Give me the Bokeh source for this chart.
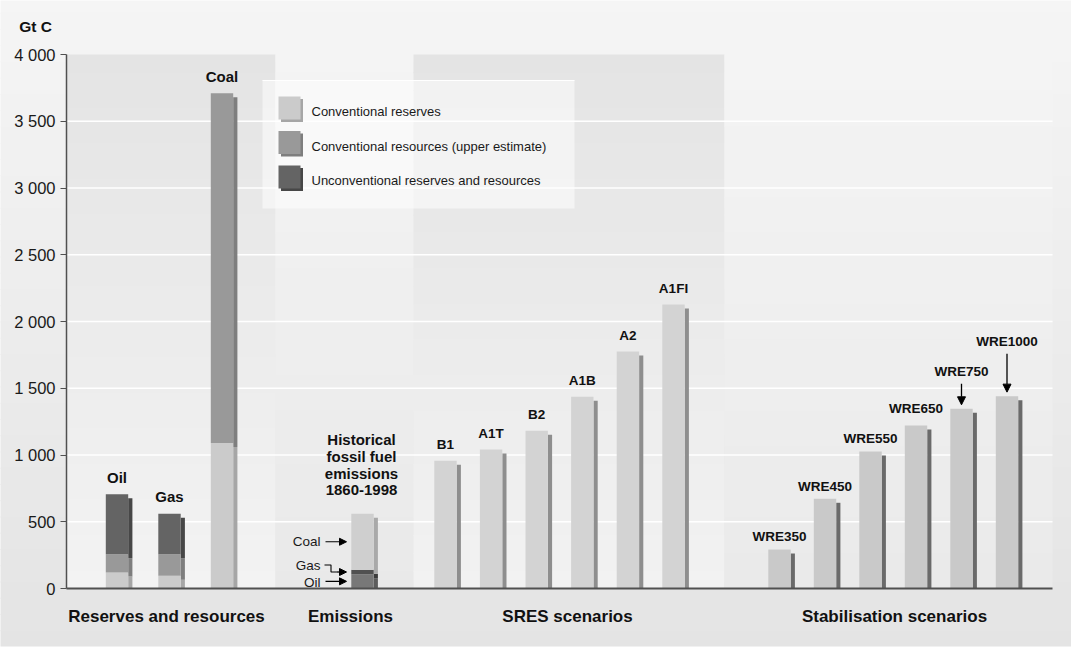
from bokeh.plotting import figure
from bokeh.models import Range1d, LinearAxis, FixedTicker, Arrow, NormalHead
from bokeh.core.properties import value
from bokeh.embed import file_html
from bokeh.resources import INLINE

# ---------------- data ----------------
y_ticks = [0, 500, 1000, 1500, 2000, 2500, 3000, 3500, 4000]
y_tick_labels = ["0", "500", "1 000", "1 500", "2 000", "2 500", "3 000", "3 500", "4 000"]
y_unit = "Gt C"

fuels = ["Oil", "Gas", "Coal"]
conventional_reserves = [120, 95, 1090]
conventional_resources = [137, 162, 2620]
unconventional = [449, 303, 0]

emission_fuels = ["Oil", "Gas", "Coal"]
historical_emissions = [107, 33, 420]
emissions_title = ["Historical", "fossil fuel", "emissions", "1860-1998"]

sres_names = ["B1", "A1T", "B2", "A1B", "A2", "A1FI"]
sres_values = [957, 1041, 1181, 1436, 1775, 2127]

wre_names = ["WRE350", "WRE450", "WRE550", "WRE650", "WRE750", "WRE1000"]
wre_values = [292, 672, 1026, 1221, 1346, 1441]

legend_labels = ["Conventional reserves",
                 "Conventional resources (upper estimate)",
                 "Unconventional reserves and resources"]
group_labels = ["Reserves and resources", "Emissions", "SRES scenarios", "Stabilisation scenarios"]

# ---------------- layout / style ----------------
W, H = 1071, 647
IMG_X0, IMG_Y0 = 8, 8
Y0_PX = 596
PX = 534 / 4000.0
FONT = value("Liberation Sans")


def gy(ypx):
    return (Y0_PX - ypx) / PX


def dy(px):
    return px / PX


p = figure(width=W, height=H, x_range=Range1d(IMG_X0, IMG_X0 + W),
           y_range=Range1d(gy(IMG_Y0 + H), gy(IMG_Y0)),
           output_backend="svg", toolbar_location=None, min_border=0,
           x_axis_type=None, y_axis_type=None)
p.outline_line_color = None
p.background_fill_color = "white"
p.border_fill_color = "white"
p.xgrid.visible = False
p.ygrid.visible = False


def hexg(v):
    v = int(round(v))
    return "#%02x%02x%02x" % (v, v, v)


def gradient(x0, x1, ytop_px, ybot_px, g0, g1, n=30):
    L, R, T, B, C = [], [], [], [], []
    for i in range(n):
        a = ytop_px + (ybot_px - ytop_px) * i / n
        b = ytop_px + (ybot_px - ytop_px) * (i + 1) / n
        if i < n - 1:
            b += 1
        L.append(x0); R.append(x1); T.append(gy(a)); B.append(gy(b))
        C.append(hexg(g0 + (g1 - g0) * (i + 0.5) / n))
    p.quad(left=L, right=R, top=T, bottom=B, fill_color=C, line_color=None)


# background + panels
gradient(6, 1081, 4, 654, 245, 228, n=40)
AX_X, AX_R = 74, 1060
TOP_PX = Y0_PX - 4000 * PX
gradient(AX_X, 283, TOP_PX, Y0_PX, 228, 243)
gradient(283, 421, TOP_PX, Y0_PX, 244, 233)
gradient(421, 732, TOP_PX, Y0_PX, 228, 242)
gradient(732, AX_R, TOP_PX, Y0_PX, 244, 234)

# white grid lines
grid_vals = y_ticks[1:-1]
p.segment(x0=[AX_X] * len(grid_vals), x1=[AX_R] * len(grid_vals), y0=grid_vals, y1=grid_vals,
          line_color="white", line_width=1.6)

BAR_W = 22.4
SH_W = 4.2
DROP = dy(4)

fl, fr, ft, fb, fc = [], [], [], [], []
sl, sr, st, sb, sc = [], [], [], [], []


def add_stack(xc, tops_bottoms, colors, shadows):
    for (b, t), c, s in zip(tops_bottoms, colors, shadows):
        if t - b <= 0:
            continue
        sl.append(xc + BAR_W / 2); sr.append(xc + BAR_W / 2 + SH_W)
        sb.append(max(b - DROP, 0)); st.append(t - DROP); sc.append(s)
        fl.append(xc - BAR_W / 2); fr.append(xc + BAR_W / 2)
        fb.append(b); ft.append(t); fc.append(c)


RES_COL = ["#cbcbcb", "#999999", "#646464"]
RES_SH = ["#a6a6a6", "#7e7e7e", "#474747"]

# reserves & resources
res_x = [124.5 + 52.5 * i for i in range(len(fuels))]
res_tops = []
for i in range(len(fuels)):
    a = conventional_reserves[i]
    b = a + conventional_resources[i]
    c = b + unconventional[i]
    res_tops.append(c)
    add_stack(res_x[i], [(0, a), (a, b), (b, c)], RES_COL, RES_SH)

# emissions
em_x = 370
cum = 0
em_seg = []
for v in historical_emissions:
    em_seg.append((cum, cum + v))
    cum += v
em_top = cum
add_stack(em_x, em_seg, ["#787878", "#515151", "#cfcfcf"], ["#5c5c5c", "#3c3c3c", "#a9a9a9"])

# SRES
sres_x = [453 + 45.6 * i for i in range(len(sres_names))]
for xc, v in zip(sres_x, sres_values):
    add_stack(xc, [(0, v)], ["#d3d3d3"], ["#8e8e8e"])

# WRE
wre_x = [787 + 45.5 * i for i in range(len(wre_names))]
for xc, v in zip(wre_x, wre_values):
    add_stack(xc, [(0, v)], ["#c9c9c9"], ["#6a6a6a"])

p.quad(left=sl, right=sr, top=st, bottom=sb, fill_color=sc, line_color=None)
p.quad(left=fl, right=fr, top=ft, bottom=fb, fill_color=fc, line_color=None)

# baseline
p.segment(x0=[AX_X], x1=[AX_R], y0=[0], y1=[0], line_color="#505050", line_width=1.8)

# y axis
yax = LinearAxis(fixed_location=AX_X, ticker=FixedTicker(ticks=y_ticks), bounds=(0, 4000),
                 major_label_overrides={t: l for t, l in zip(y_ticks, y_tick_labels)})
yax.axis_line_color = "#505050"
yax.axis_line_width = 1.5
yax.major_tick_line_color = "#505050"
yax.major_tick_line_width = 1.2
yax.major_tick_out = 6
yax.major_tick_in = 0
yax.minor_tick_line_color = None
yax.major_label_standoff = 5
yax.major_label_text_font = "Liberation Sans"
yax.major_label_text_font_size = "16.5px"
yax.major_label_text_color = "#1a1a1a"
p.add_layout(yax, "left")

p.text(x=[43], y=[gy(34)], text=[y_unit], text_font=FONT, text_font_size="15.5px",
       text_font_style="bold", text_align="center", text_baseline="middle", text_color="#111111")


def labels(xs, ys, texts, size, bold=True, align="center", color="#111111"):
    p.text(x=xs, y=ys, text=texts, text_font=FONT, text_font_size=size,
           text_font_style="bold" if bold else "normal", text_align=align,
           text_baseline="middle", text_color=color)


# bar labels
labels(res_x, [t + dy(17) for t in res_tops], fuels, "15px")
labels(sres_x, [v + dy(16.5) for v in sres_values], sres_names, "13.5px")
wre_gap_px = [13, 12, 13, 17, 37, 54.5]
wre_label_y = [v + dy(g) for v, g in zip(wre_values, wre_gap_px)]
labels(wre_x, wre_label_y, wre_names, "13.5px")

for i in (4, 5):
    p.add_layout(Arrow(end=NormalHead(size=8, fill_color="black", line_color="black"),
                       x_start=wre_x[i], y_start=wre_label_y[i] - dy(12),
                       x_end=wre_x[i], y_end=wre_values[i] + dy(4),
                       line_color="black", line_width=1.3))

# emissions annotations
title_y = [em_top + dy(23.5 + 17 * (len(emissions_title) - 1 - k)) for k in range(len(emissions_title))]
labels([369] * len(emissions_title), title_y, emissions_title, "15px")

mids = [(b + t) / 2 for b, t in em_seg]
oil_mid, gas_mid, coal_mid = mids
labels([328, 328, 328], [oil_mid - dy(1), gas_mid + dy(7), coal_mid],
       ["Oil", "Gas", "Coal"], "13.5px", bold=False, align="right", color="#1a1a1a")
head = dict(size=7, fill_color="black", line_color="black")
p.add_layout(Arrow(end=NormalHead(**head), x_start=333, y_start=coal_mid, x_end=354, y_end=coal_mid,
                   line_color="black", line_width=1.1))
p.add_layout(Arrow(end=NormalHead(**head), x_start=333, y_start=oil_mid, x_end=354, y_end=oil_mid,
                   line_color="black", line_width=1.1))
p.line(x=[332, 338.5, 338.5, 346], y=[gas_mid + dy(7), gas_mid + dy(7), gas_mid, gas_mid],
       line_color="black", line_width=1.1)
p.add_layout(Arrow(end=NormalHead(**head), x_start=345, y_start=gas_mid, x_end=354, y_end=gas_mid,
                   line_color="black", line_width=1.1))

# legend box
p.quad(left=[270], right=[582], top=[gy(88)], bottom=[gy(216)], fill_color="white",
       fill_alpha=0.5, line_color=None)
p.segment(x0=[270], x1=[582], y0=[gy(88)], y1=[gy(88)], line_color="white", line_width=1.2)
leg_y = [gy(119 + 34.5 * k) for k in range(len(legend_labels))]
half = dy(11.5)
sw_c = [y + dy(3.5) for y in leg_y]
p.quad(left=[288.5] * 3, right=[310.5] * 3, top=[c + half - dy(2.5) for c in sw_c],
       bottom=[c - half - dy(2.5) for c in sw_c], fill_color=RES_SH, line_color=None)
p.quad(left=[286] * 3, right=[308] * 3, top=[c + half for c in sw_c],
       bottom=[c - half for c in sw_c], fill_color=RES_COL, line_color=None)
labels([319] * 3, leg_y, legend_labels, "13px", bold=False, align="left", color="#1a1a1a")

# group labels
labels([174, 358, 575, 902], [gy(624)] * 4, group_labels, "17px")

open("out.html", "w").write(file_html(p, INLINE))
